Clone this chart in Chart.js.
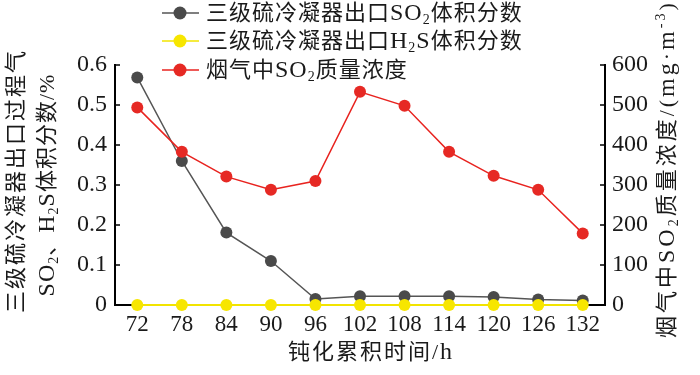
<!DOCTYPE html>
<html>
<head>
<meta charset="utf-8">
<script src="https://cdn.jsdelivr.net/npm/chart.js@4"></script>
<style>
  html, body { margin: 0; padding: 0; background: #fff; }
  #wrap { width: 700px; height: 375px; position: relative; }
</style>
</head>
<body>
<div id="wrap"><canvas id="c"></canvas></div>
<script>
// ---- data ----
const hours = ['72', '78', '84', '90', '96', '102', '108', '114', '120', '126', '132'];
const so2Frac = [0.569, 0.36, 0.181, 0.11, 0.015, 0.022, 0.022, 0.022, 0.02, 0.014, 0.011];
const h2sFrac = [0, 0, 0, 0, 0, 0, 0, 0, 0, 0, 0];
const so2Conc = [494, 383, 321, 288, 310, 533, 498, 383, 323, 288, 179];
const leftTicks = [0, 0.1, 0.2, 0.3, 0.4, 0.5, 0.6];
const leftTickLabels = ['0', '0.1', '0.2', '0.3', '0.4', '0.5', '0.6'];
const rightTicks = [0, 100, 200, 300, 400, 500, 600];
const rightTickLabels = ['0', '100', '200', '300', '400', '500', '600'];

const FAMILY = '"Liberation Serif", "Noto Sans CJK SC", serif';
const INK = '#1a1a1a';

// split text into runs: CJK / latin / subscript / superscript
const SUB = { '₀': '0', '₁': '1', '₂': '2', '₃': '3' };
const SUP = { '⁻': '-', '¹': '1', '²': '2', '³': '3' };
function runs(text) {
  const out = [];
  for (const ch of text) {
    const k = SUB[ch] ? 'sub' : SUP[ch] ? 'sup' : /[A-Za-z]/.test(ch) ? 'lat' : 'n';
    const t = SUB[ch] || SUP[ch] || ch;
    if (out.length && out[out.length - 1].k === k) out[out.length - 1].t += t;
    else out.push({ t, k });
  }
  return out;
}
function runSize(k, size) {
  if (k === 'lat') return Math.round(size * 1.1);
  if (k === 'sub' || k === 'sup') return Math.round(size * 0.62);
  return size;
}
function richWidth(ctx, text, size, spacing) {
  let w = 0;
  ctx.letterSpacing = spacing + 'px';
  runs(text).forEach(r => {
    ctx.font = runSize(r.k, size) + 'px ' + FAMILY;
    w += ctx.measureText(r.t).width;
  });
  return w;
}
function drawRich(ctx, text, x, y, size, spacing) {
  ctx.textBaseline = 'middle';
  ctx.textAlign = 'left';
  ctx.letterSpacing = spacing + 'px';
  runs(text).forEach(r => {
    ctx.font = runSize(r.k, size) + 'px ' + FAMILY;
    const dy = r.k === 'sub' ? size * 0.3 : r.k === 'sup' ? -size * 0.32 : 0;
    ctx.fillText(r.t, x, y + dy);
    x += ctx.measureText(r.t).width;
  });
}

const decor = {
  id: 'decor',
  afterDatasetsDraw(chart) {
    const ctx = chart.ctx, a = chart.chartArea;
    ctx.save();
    ctx.strokeStyle = '#000';
    ctx.lineWidth = 1.5;
    chart.scales.y.ticks.forEach(t => {
      const py = chart.scales.y.getPixelForValue(t.value);
      ctx.beginPath(); ctx.moveTo(a.left, py); ctx.lineTo(a.left + 5, py); ctx.stroke();
    });
    chart.scales.y1.ticks.forEach(t => {
      const py = chart.scales.y1.getPixelForValue(t.value);
      ctx.beginPath(); ctx.moveTo(a.right - 5, py); ctx.lineTo(a.right, py); ctx.stroke();
    });
    ctx.restore();
  },
  afterDraw(chart) {
    const ctx = chart.ctx;
    ctx.save();
    ctx.fillStyle = INK;

    // legend
    const rowsY = [13, 41, 70];
    chart.data.datasets.forEach((ds, i) => {
      const y = rowsY[i];
      ctx.strokeStyle = ds.borderColor;
      ctx.lineWidth = 1.5;
      ctx.beginPath(); ctx.moveTo(162, y); ctx.lineTo(199, y); ctx.stroke();
      ctx.fillStyle = ds.backgroundColor;
      ctx.beginPath(); ctx.arc(180, y, 6.5, 0, Math.PI * 2); ctx.fill();
      ctx.fillStyle = INK;
      drawRich(ctx, ds.label, 206, y + 1, 22, 1);
    });

    // x title
    const xt = '钝化累积时间/h';
    drawRich(ctx, xt, 371 - richWidth(ctx, xt, 22, 2) / 2, 353, 22, 2);

    // left titles (rotated)
    const l1 = '三级硫冷凝器出口过程气', l2 = 'SO₂、H₂S体积分数/%';
    ctx.save(); ctx.translate(17, 181); ctx.rotate(-Math.PI / 2);
    drawRich(ctx, l1, -richWidth(ctx, l1, 22, 2) / 2, 0, 22, 2);
    ctx.restore();
    ctx.save(); ctx.translate(48, 185); ctx.rotate(-Math.PI / 2);
    drawRich(ctx, l2, -richWidth(ctx, l2, 22, 1) / 2, 0, 22, 1);
    ctx.restore();

    // right title (rotated, starts near bottom)
    ctx.save(); ctx.translate(668, 338); ctx.rotate(-Math.PI / 2);
    drawRich(ctx, '烟气中SO₂质量浓度/(mg·m⁻³)', 0, 0, 22, 3);
    ctx.restore();

    ctx.restore();
  }
};

const axisBorder = { display: true, color: '#000', width: 2 };
const noGrid = { display: false, drawTicks: false };

new Chart(document.getElementById('c'), {
  type: 'line',
  data: {
    labels: hours,
    datasets: [
      { label: '三级硫冷凝器出口SO₂体积分数', data: so2Frac, yAxisID: 'y',
        borderColor: '#555555', backgroundColor: '#4a4a4a', borderWidth: 1.5,
        pointRadius: 6, pointBorderWidth: 0, order: 3, clip: false },
      { label: '三级硫冷凝器出口H₂S体积分数', data: h2sFrac, yAxisID: 'y',
        borderColor: '#f2e400', backgroundColor: '#f7e600', borderWidth: 2,
        pointRadius: 6, pointBorderWidth: 0, order: 2, clip: false },
      { label: '烟气中SO₂质量浓度', data: so2Conc, yAxisID: 'y1',
        borderColor: '#e8231f', backgroundColor: '#e62924', borderWidth: 1.5,
        pointRadius: 6, pointBorderWidth: 0, order: 1, clip: false }
    ]
  },
  options: {
    responsive: true,
    maintainAspectRatio: false,
    animation: false,
    layout: { padding: { top: 65, left: 0, right: 0, bottom: 0 } },
    plugins: { legend: { display: false }, tooltip: { enabled: false } },
    scales: {
      x: {
        type: 'category', offset: true,
        grid: noGrid, border: axisBorder,
        ticks: { color: INK, font: { family: FAMILY, size: 23 }, padding: 6, maxRotation: 0, autoSkip: false },
        afterFit(s) { s.height = 70; }
      },
      y: {
        position: 'left', min: 0, max: 0.6,
        grid: noGrid, border: axisBorder,
        afterBuildTicks(s) { s.ticks = leftTicks.map(v => ({ value: v })); },
        ticks: { color: INK, font: { family: FAMILY, size: 24 }, padding: 8,
                 callback: (v, i) => leftTickLabels[i] },
        afterFit(s) { s.width = 115; }
      },
      y1: {
        position: 'right', min: 0, max: 600,
        grid: noGrid, border: axisBorder,
        afterBuildTicks(s) { s.ticks = rightTicks.map(v => ({ value: v })); },
        ticks: { color: INK, font: { family: FAMILY, size: 24 }, padding: 7,
                 callback: (v, i) => rightTickLabels[i] },
        afterFit(s) { s.width = 95; }
      }
    }
  },
  plugins: [decor]
});
</script>
</body>
</html>
